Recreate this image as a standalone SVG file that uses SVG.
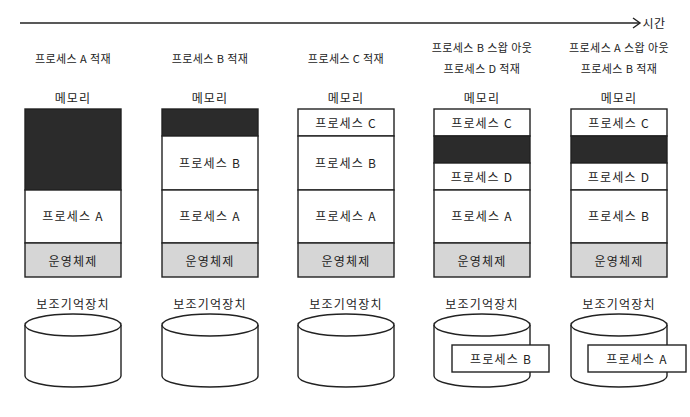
<svg xmlns="http://www.w3.org/2000/svg" width="690" height="417" viewBox="0 0 690 417">
<style>
text{font-family:"Noto Sans CJK KR","Noto Sans",sans-serif;fill:#222;text-anchor:middle;dominant-baseline:central}
.t{font-size:11px;letter-spacing:0.4px}
.m{font-size:12px;letter-spacing:1.2px}
.b{fill:#fff;stroke:#222;stroke-width:1.4}
.d{fill:#2b2b2b;stroke:#222;stroke-width:1.4}
.os{fill:#d6d6d6;stroke:#222;stroke-width:1.4}
.cyl{fill:#fff;stroke:#222;stroke-width:1.4}
</style>
<rect width="690" height="417" fill="#fff"/>
<g id="connectors">
<line x1="20" y1="23" x2="639" y2="23" stroke="#222" stroke-width="1.6"/>
<polyline points="633,18 640,23 633,28" fill="none" stroke="#222" stroke-width="1.4"/>
</g>
<text class="t" x="654" y="22" style="font-size:12px">시간</text>
<g id="labels">
<text class="t" x="73" y="58">프로세스 A 적재</text>
<text class="t" x="210" y="58">프로세스 B 적재</text>
<text class="t" x="346" y="58">프로세스 C 적재</text>
<text class="t" x="482" y="47">프로세스 B 스왑 아웃</text>
<text class="t" x="482" y="68">프로세스 D 적재</text>
<text class="t" x="619" y="47">프로세스 A 스왑 아웃</text>
<text class="t" x="619" y="68">프로세스 B 적재</text>
</g>
<g id="mem1">
<text class="m" x="73" y="97">메모리</text>
<rect class="d" x="25" y="109" width="96" height="81"/>
<rect class="b" x="25" y="190" width="96" height="53"/>
<text class="m" x="73" y="215">프로세스 A</text>
<rect class="os" x="25" y="243" width="96" height="34"/>
<text class="m" x="73" y="260">운영체제</text>
</g>
<g id="mem2">
<text class="m" x="210" y="97">메모리</text>
<rect class="d" x="162" y="109" width="96" height="27"/>
<rect class="b" x="162" y="136" width="96" height="54"/>
<text class="m" x="210" y="162">프로세스 B</text>
<rect class="b" x="162" y="190" width="96" height="53"/>
<text class="m" x="210" y="215">프로세스 A</text>
<rect class="os" x="162" y="243" width="96" height="34"/>
<text class="m" x="210" y="260">운영체제</text>
</g>
<g id="mem3">
<text class="m" x="346" y="97">메모리</text>
<rect class="b" x="298" y="109" width="96" height="27"/>
<text class="m" x="346" y="122">프로세스 C</text>
<rect class="b" x="298" y="136" width="96" height="54"/>
<text class="m" x="346" y="162">프로세스 B</text>
<rect class="b" x="298" y="190" width="96" height="53"/>
<text class="m" x="346" y="215">프로세스 A</text>
<rect class="os" x="298" y="243" width="96" height="34"/>
<text class="m" x="346" y="260">운영체제</text>
</g>
<g id="mem4">
<text class="m" x="482" y="97">메모리</text>
<rect class="b" x="434" y="109" width="96" height="27"/>
<text class="m" x="482" y="122">프로세스 C</text>
<rect class="d" x="434" y="136" width="96" height="27"/>
<rect class="b" x="434" y="163" width="96" height="27"/>
<text class="m" x="482" y="176">프로세스 D</text>
<rect class="b" x="434" y="190" width="96" height="53"/>
<text class="m" x="482" y="215">프로세스 A</text>
<rect class="os" x="434" y="243" width="96" height="34"/>
<text class="m" x="482" y="260">운영체제</text>
</g>
<g id="mem5">
<text class="m" x="619" y="97">메모리</text>
<rect class="b" x="571" y="109" width="96" height="27"/>
<text class="m" x="619" y="122">프로세스 C</text>
<rect class="d" x="571" y="136" width="96" height="27"/>
<rect class="b" x="571" y="163" width="96" height="27"/>
<text class="m" x="619" y="176">프로세스 D</text>
<rect class="b" x="571" y="190" width="96" height="53"/>
<text class="m" x="619" y="215">프로세스 B</text>
<rect class="os" x="571" y="243" width="96" height="34"/>
<text class="m" x="619" y="260">운영체제</text>
</g>
<defs>
<g id="cylshape">
<path class="cyl" d="M0,0 L0,51 A48,11 0 0 0 96,51 L96,0"/>
<ellipse class="cyl" cx="48" cy="0" rx="48" ry="11"/>
</g>
</defs>
<g id="disk1">
<text class="m" x="73" y="303">보조기억장치</text>
<use href="#cylshape" x="25" y="325"/>
</g>
<g id="disk2">
<text class="m" x="210" y="303">보조기억장치</text>
<use href="#cylshape" x="162" y="325"/>
</g>
<g id="disk3">
<text class="m" x="346" y="303">보조기억장치</text>
<use href="#cylshape" x="298" y="325"/>
</g>
<g id="disk4">
<text class="m" x="482" y="303">보조기억장치</text>
<use href="#cylshape" x="434" y="325"/>
<rect class="b" x="452" y="345" width="97" height="27"/>
<text class="m" x="501" y="358">프로세스 B</text>
</g>
<g id="disk5">
<text class="m" x="619" y="303">보조기억장치</text>
<use href="#cylshape" x="571" y="325"/>
<rect class="b" x="588" y="345" width="98" height="27"/>
<text class="m" x="637" y="358">프로세스 A</text>
</g>
</svg>
